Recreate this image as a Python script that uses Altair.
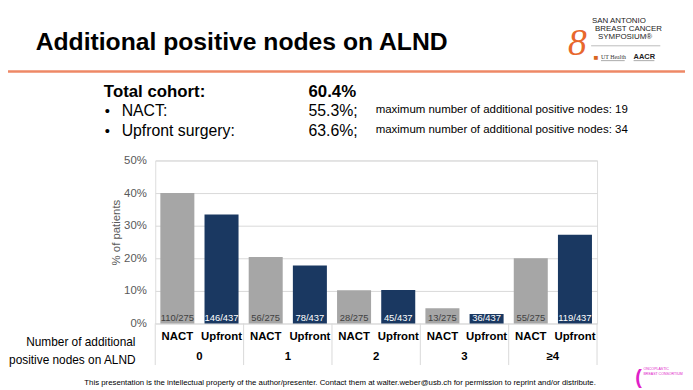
import altair as alt
import pandas as pd

# ---- data ----
groups = ["0", "1", "2", "3", "≥4"]
series = ["NACT", "Upfront"]
nact_pct = [40.0, 20.4, 10.2, 4.7, 20.0]
upfront_pct = [33.4, 17.8, 10.3, 2.9, 27.2]
nact_labels = ["110/275", "56/275", "28/275", "13/275", "55/275"]
upfront_labels = ["146/437", "78/437", "45/437", "36/437", "119/437"]
y_ticks = [0, 10, 20, 30, 40, 50]

rows = []
for i, g in enumerate(groups):
    rows.append({"group": g, "series": "NACT", "pct": nact_pct[i], "lab": nact_labels[i]})
    rows.append({"group": g, "series": "Upfront", "pct": upfront_pct[i], "lab": upfront_labels[i]})
df = pd.DataFrame(rows)
gdf = pd.DataFrame({"group": groups})

GRAY = "#A6A6A6"
NAVY = "#1A3861"
W, H = 447, 165
OX, OY = 157, 160  # plot origin on the page


def px(x):
    return x - OX


def py(y):
    return y - OY


xg = alt.X("group:N", sort=groups, axis=None,
           scale=alt.Scale(paddingInner=0, paddingOuter=0))
xo = alt.XOffset("series:N", sort=series,
                 scale=alt.Scale(paddingInner=0.23, paddingOuter=0.115))

bars = alt.Chart(df).mark_bar().encode(
    x=xg, xOffset=xo,
    y=alt.Y("pct:Q", scale=alt.Scale(domain=[0, 50]),
            axis=alt.Axis(values=y_ticks, labelExpr="datum.value + '%'", grid=True,
                          gridColor="#D9D9D9", domain=False, ticks=False,
                          labelFontSize=11.5, labelColor="#595959", labelPadding=9,
                          title=None)),
    color=alt.Color("series:N", sort=series,
                    scale=alt.Scale(domain=series, range=[GRAY, NAVY]), legend=None),
)

bar_labels = alt.Chart(df).mark_text(baseline="bottom", fontSize=9.5, dy=-0.5).encode(
    x=xg, xOffset=xo, y=alt.value(H), text="lab:N",
    color=alt.condition("datum.series == 'NACT'", alt.value("#404040"), alt.value("white")),
)

series_labels = alt.Chart(df).mark_text(baseline="middle", fontSize=11.5, fontWeight="bold",
                                        color="#000000").encode(
    x=xg, xOffset=xo, y=alt.value(py(339)), text="series:N")

group_labels = alt.Chart(gdf).mark_text(baseline="middle", fontSize=11.5, fontWeight="bold",
                                        color="#000000").encode(
    x=xg, y=alt.value(py(359)), text="group:N")

seps = alt.Chart(gdf).mark_rule(color="#D9D9D9", strokeWidth=1).encode(
    x=alt.X("group:N", sort=groups, axis=None, bandPosition=0,
            scale=alt.Scale(paddingInner=0, paddingOuter=0)),
    y=alt.value(H), y2=alt.value(py(367)))
sep_end = alt.Chart(gdf.head(1)).mark_rule(color="#D9D9D9", strokeWidth=1).encode(
    x=alt.value(W), y=alt.value(H), y2=alt.value(py(367)))

one = pd.DataFrame({"a": [0]})


def txt(s, x, y, **kw):
    return alt.Chart(one).mark_text(text=s, **kw).encode(x=alt.value(px(x)), y=alt.value(py(y)))


def hline(x1, x2, y, color, width):
    return alt.Chart(one).mark_rule(color=color, strokeWidth=width).encode(
        x=alt.value(px(x1)), x2=alt.value(px(x2)), y=alt.value(py(y)))


deco = [
    txt("% of patients", 118, 233, angle=270, fontSize=11.5, color="#595959",
        align="center", baseline="middle"),
    txt("Number of additional", 137, 344, align="right", baseline="middle",
        fontSize=12, color="#000000"),
    txt("positive nodes on ALND", 137, 362, align="right", baseline="middle",
        fontSize=12, color="#000000"),
    txt("Additional positive nodes on ALND", 36, 48, align="left", baseline="alphabetic",
        fontSize=25, fontWeight="bold", color="#000000"),
    hline(8, 693, 70, "#EE8866", 2.5),
    txt("Total cohort:", 105, 91, align="left", fontSize=17, fontWeight="bold", color="#000000"),
    txt("60.4%", 312, 91, align="left", fontSize=17, fontWeight="bold", color="#000000"),
    txt("•", 106, 110, align="left", fontSize=15, color="#000000"),
    txt("NACT:", 123, 110, align="left", fontSize=16, color="#000000"),
    txt("55.3%;", 312, 110, align="left", fontSize=16, color="#000000"),
    txt("maximum number of additional positive nodes: 19", 380, 109, align="left",
        fontSize=11.6, color="#000000"),
    txt("•", 106, 130, align="left", fontSize=15, color="#000000"),
    txt("Upfront surgery:", 123, 130, align="left", fontSize=16, color="#000000"),
    txt("63.6%;", 312, 130, align="left", fontSize=16, color="#000000"),
    txt("maximum number of additional positive nodes: 34", 380, 129, align="left",
        fontSize=11.6, color="#000000"),
    txt("This presentation is the intellectual property of the author/presenter. Contact them at "
        "walter.weber@usb.ch for permission to reprint and/or distribute.",
        344, 385, align="center", fontSize=7.9, color="#000000"),
    # SABCS logo (approximation)
    txt("8", 584, 42, align="center", fontSize=38, font="Liberation Serif",
        fontStyle="italic", color="#E8672C"),
    txt("SAN ANTONIO", 599, 19, align="left", fontSize=8, color="#222222"),
    txt("BREAST CANCER", 602, 27, align="left", fontSize=8, color="#222222"),
    txt("SYMPOSIUM®", 605, 35, align="left", fontSize=8, color="#222222"),
    hline(598, 668, 44, "#BBBBBB", 1),
    txt("■", 603, 56, align="center", fontSize=8, color="#D9661F"),
    txt("UT Health", 608, 55, align="left", fontSize=6, font="Liberation Serif",
        color="#333333"),
    txt("AACR", 641, 55, align="left", fontSize=7.5, fontWeight="bold", color="#222222"),
    hline(608, 632, 59, "#AAAAAA", 1),
    hline(641, 662, 59, "#AAAAAA", 1),
    # Oncoplastic logo (approximation)
    txt("(", 646, 380, align="center", fontSize=20, fontWeight="bold", color="#E020C8"),
    txt("ONCOPLASTIC", 651, 371, align="left", fontSize=3.6, color="#E020C8"),
    txt("BREAST CONSORTIUM", 651, 376, align="left", fontSize=3.6, color="#E020C8"),
]

chart = alt.layer(seps, sep_end, bars, bar_labels, series_labels, group_labels, *deco).properties(
    width=W, height=H,
    autosize=alt.AutoSizeParams(type="none"),
    padding={"left": OX - 8, "top": OY - 8, "right": 685 - (OX - 8) - W, "bottom": 382 - (OY - 8) - H},
    background="white",
).configure_view(stroke=None).configure(font="Liberation Sans")

chart.save("out.html", embed_options={"renderer": "svg", "actions": False})
